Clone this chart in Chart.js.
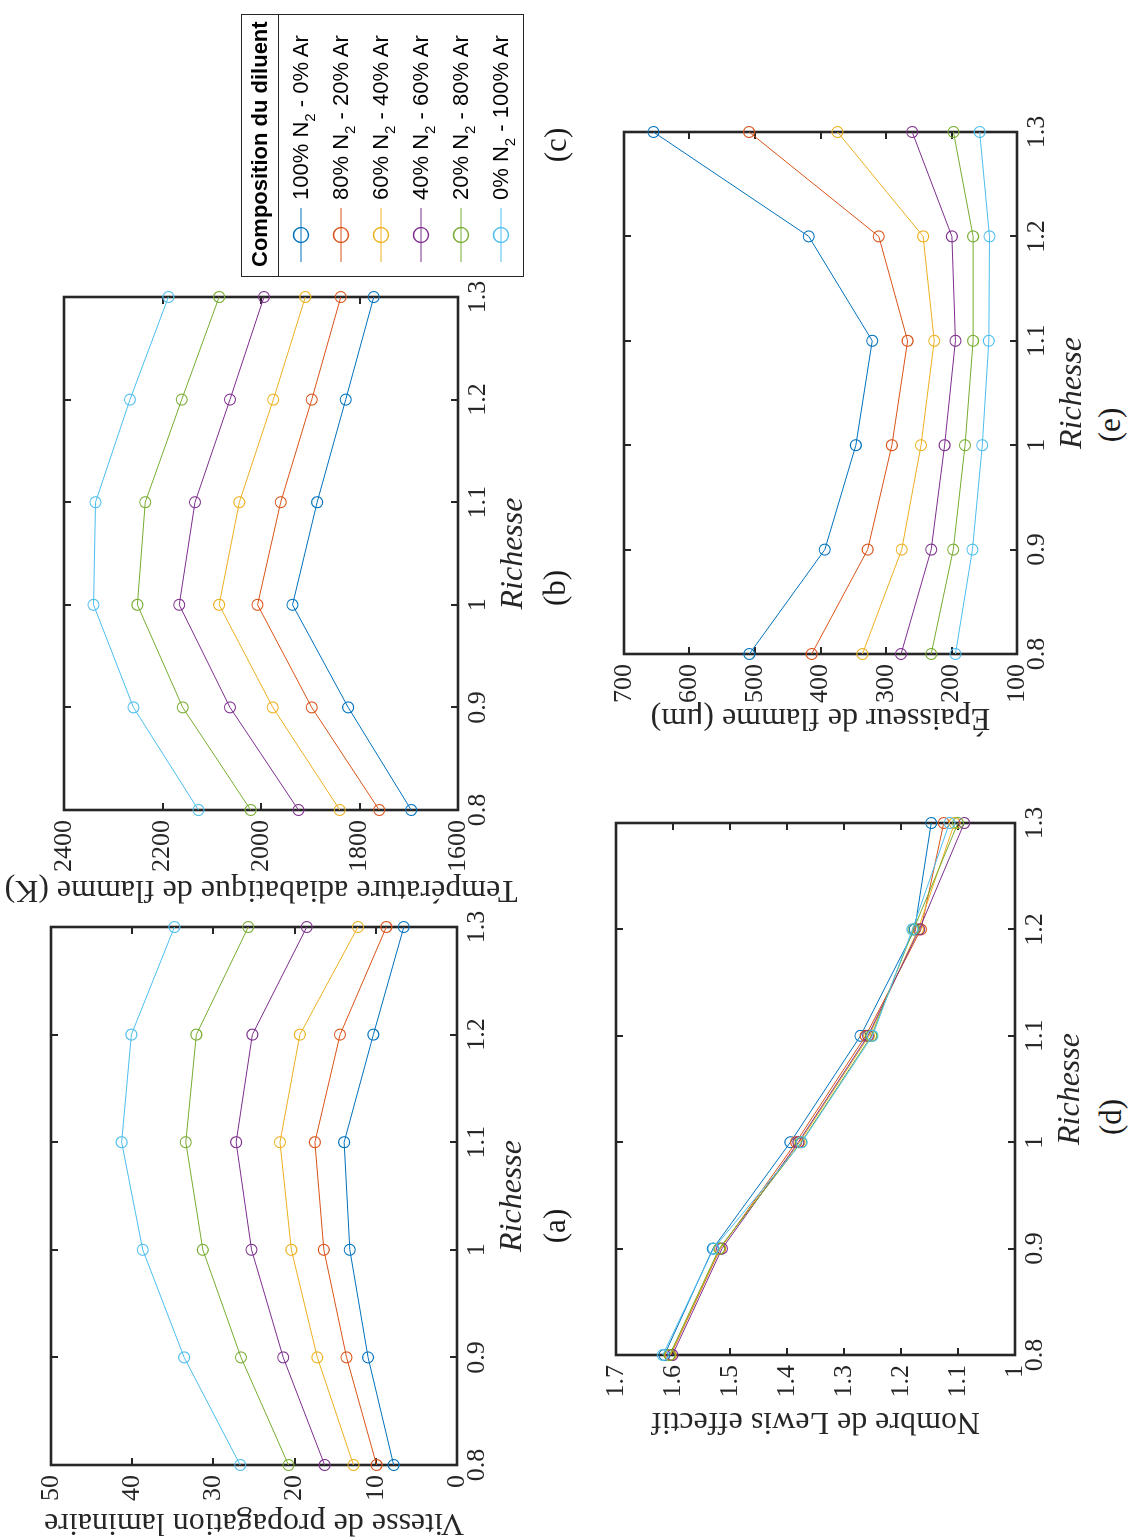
<!DOCTYPE html>
<html>
<head>
<meta charset="utf-8">
<script src="https://cdn.jsdelivr.net/npm/chart.js@4.4.1/dist/chart.umd.min.js"></script>
<style>
  html, body { margin: 0; padding: 0; background: #fff; overflow: hidden; width: 1133px; height: 1539px; }
  #page { position: absolute; left: 0; top: 0; width: 1539px; height: 1133px; background: #fff;
          transform-origin: 0 0; transform: translate(0, 1539px) rotate(-90deg); }
  .plabel { position: absolute; transform: translate(-50%, -50%); font-family: 'Liberation Serif', serif;
            font-size: 31px; color: #1a1a1a; white-space: nowrap; }
  #legend { position: absolute; left: 1262px; top: 241px; width: 263px; height: 283px;
            border: 1px solid #262626; background: #fff; font-family: 'Liberation Sans', Arial, sans-serif;
            font-size: 22px; color: #000; box-sizing: border-box; }
  #legend .ttl { position: absolute; left: 0; top: 0; width: 100%; height: 37px; border-bottom: 1px solid #262626;
                 box-sizing: border-box; font-weight: bold; line-height: 36px; padding-left: 9px; white-space: nowrap; }
  #legend sub { font-size: 15px; vertical-align: -7px; line-height: 0; }
</style>
</head>
<body>
<div id="page">
  <div id="legend"><div class="ttl">Composition du diluent</div></div>
</div>
<script>
// ---------------- DATA ----------------
const richesse = [0.8, 0.9, 1.0, 1.1, 1.2, 1.3];
const n2Percent = [100, 80, 60, 40, 20, 0];
const arPercent = [0, 20, 40, 60, 80, 100];

// (a) Vitesse de propagation laminaire
const vitesse100N2 = [7.8, 10.95, 13.2, 13.9, 10.3, 6.55];
const vitesse80N2  = [9.9, 13.6, 16.4, 17.5, 14.4, 8.7];
const vitesse60N2  = [12.75, 17.2, 20.4, 21.8, 19.35, 12.2];
const vitesse40N2  = [16.3, 21.4, 25.3, 27.2, 25.2, 18.5];
const vitesse20N2  = [20.75, 26.6, 31.3, 33.4, 32.1, 25.7];
const vitesse0N2   = [26.7, 33.6, 38.7, 41.3, 40.1, 34.8];

// (b) Température adiabatique de flamme (K)
const temp100N2 = [1695, 1823, 1936, 1886, 1828, 1771];
const temp80N2  = [1760, 1897, 2007, 1960, 1897, 1838];
const temp60N2  = [1840, 1976, 2085, 2044, 1975, 1910];
const temp40N2  = [1924, 2063, 2166, 2134, 2063, 1994];
const temp20N2  = [2021, 2159, 2251, 2235, 2161, 2085];
const temp0N2   = [2127, 2259, 2340, 2336, 2266, 2188];

// (d) Nombre de Lewis effectif
const lewis100N2 = [1.615, 1.530, 1.394, 1.271, 1.176, 1.147];
const lewis80N2  = [1.604, 1.517, 1.384, 1.262, 1.165, 1.125];
const lewis60N2  = [1.605, 1.518, 1.378, 1.256, 1.170, 1.106];
const lewis40N2  = [1.601, 1.514, 1.380, 1.258, 1.168, 1.089];
const lewis20N2  = [1.606, 1.519, 1.375, 1.252, 1.178, 1.100];
const lewis0N2   = [1.618, 1.529, 1.374, 1.250, 1.180, 1.115];

// (e) Épaisseur de flamme (µm)
const epais100N2 = [508.6, 393.4, 346, 321, 418, 655];
const epais80N2  = [413.5, 328, 291, 267, 311, 509];
const epais60N2  = [336, 276, 246.5, 226.4, 243.3, 374];
const epais40N2  = [277, 231, 210.5, 194, 199.4, 260];
const epais20N2  = [231, 197.3, 179.3, 167, 167, 197];
const epais0N2   = [194, 168, 153, 143, 142, 157];

// tick values and labels
const xTickVals = [0.8, 0.9, 1.0, 1.1, 1.2, 1.3];
const xTickLabels = ['0.8', '0.9', '1', '1.1', '1.2', '1.3'];
const vitesseTicks = [0, 10, 20, 30, 40, 50];
const vitesseTickLabels = ['0', '10', '20', '30', '40', '50'];
const tempTicks = [1600, 1800, 2000, 2200, 2400];
const tempTickLabels = ['1600', '1800', '2000', '2200', '2400'];
const lewisTicks = [1, 1.1, 1.2, 1.3, 1.4, 1.5, 1.6, 1.7];
const lewisTickLabels = ['1', '1.1', '1.2', '1.3', '1.4', '1.5', '1.6', '1.7'];
const epaisTicks = [100, 200, 300, 400, 500, 600, 700];
const epaisTickLabels = ['100', '200', '300', '400', '500', '600', '700'];

// ---------------- STYLE ----------------
const colors = ['#0072BD', '#D95319', '#EDB120', '#7E2F8E', '#77AC30', '#4DBEEE'];
const SERIF = "'Liberation Serif', 'Times New Roman', serif";
const INK = '#262626';
const page = document.getElementById('page');

const framePlugin = {
  id: 'matlabFrame',
  beforeDatasetsDraw(chart) {
    const {ctx, chartArea: a, scales: {x, y}} = chart;
    const L = 7;
    ctx.save();
    ctx.strokeStyle = INK;
    ctx.lineWidth = 2;
    ctx.beginPath();
    x.ticks.forEach(t => {
      const p = Math.round(x.getPixelForValue(t.value));
      ctx.moveTo(p, a.bottom); ctx.lineTo(p, a.bottom - L);
      ctx.moveTo(p, a.top); ctx.lineTo(p, a.top + L);
    });
    y.ticks.forEach(t => {
      const p = Math.round(y.getPixelForValue(t.value));
      ctx.moveTo(a.left, p); ctx.lineTo(a.left + L, p);
      ctx.moveTo(a.right, p); ctx.lineTo(a.right - L, p);
    });
    ctx.stroke();
    ctx.lineWidth = 2.6;
    ctx.strokeRect(a.left, a.top, a.right - a.left, a.bottom - a.top);
    ctx.restore();
  }
};

function panel(cfg) {
  const B = cfg.box, A = cfg.area;
  const w = B.R - B.L, h = B.B - B.T;
  const c = document.createElement('canvas');
  c.width = w; c.height = h;
  c.style.cssText = `position:absolute;left:${B.L}px;top:${B.T}px;width:${w}px;height:${h}px`;
  page.insertBefore(c, page.firstChild);
  const tickFont = {family: SERIF, size: 26, lineHeight: 1.2};
  new Chart(c, {
    type: 'line',
    data: {
      datasets: cfg.values.map((vals, i) => ({
        label: `${n2Percent[i]}% N2 - ${arPercent[i]}% Ar`,
        data: richesse.map((r, j) => ({x: r, y: vals[j]})),
        borderColor: colors[i],
        backgroundColor: 'rgba(0,0,0,0)',
        borderWidth: 1,
        pointRadius: 5.5,
        pointHoverRadius: 5.5,
        pointBorderWidth: 1.1,
        pointBorderColor: colors[i],
        pointBackgroundColor: 'rgba(0,0,0,0)',
        tension: 0,
        clip: false,
        order: -i
      }))
    },
    options: {
      responsive: false,
      animation: false,
      devicePixelRatio: 1,
      events: [],
      layout: {padding: {left: 0, top: A.top - B.T, right: B.R - A.right, bottom: 0}},
      plugins: {legend: {display: false}, tooltip: {enabled: false}},
      scales: {
        x: {
          type: 'linear', position: 'bottom', min: 0.8, max: 1.3,
          grid: {display: false, drawTicks: false}, border: {display: false},
          afterBuildTicks: s => { s.ticks = xTickVals.map(v => ({value: v})); },
          afterFit: s => { s.height = B.B - A.bottom; },
          ticks: {callback: (v, i) => xTickLabels[i], font: tickFont, color: INK, padding: 5,
                  maxRotation: 0, minRotation: 0, autoSkip: false},
          title: {display: true, text: 'Richesse', color: INK, padding: 0,
                  font: {family: SERIF, size: 32, style: 'italic', lineHeight: 1.2}}
        },
        y: {
          type: 'linear', position: 'left', min: cfg.yMin, max: cfg.yMax,
          grid: {display: false, drawTicks: false}, border: {display: false},
          afterBuildTicks: s => { s.ticks = cfg.yTicks.map(v => ({value: v})); },
          afterFit: s => { s.width = A.left - B.L; },
          ticks: {callback: (v, i) => cfg.yTickLabels[i], font: tickFont, color: INK, padding: 10, autoSkip: false},
          title: {display: true, text: cfg.yTitle, color: INK, padding: 0,
                  font: {family: SERIF, size: 32, lineHeight: 1.2}}
        }
      }
    },
    plugins: [framePlugin]
  });
}

// (a)
panel({
  box: {L: -3, T: 0, R: 650, B: 532},
  area: {left: 74, top: 51, right: 612, bottom: 457},
  values: [vitesse100N2, vitesse80N2, vitesse60N2, vitesse40N2, vitesse20N2, vitesse0N2],
  yMin: 0, yMax: 50, yTicks: vitesseTicks, yTickLabels: vitesseTickLabels,
  yTitle: 'Vitesse de propagation laminaire'
});
// (b)
panel({
  box: {L: 630, T: 0, R: 1272, B: 533},
  area: {left: 729, top: 64, right: 1242, bottom: 458},
  values: [temp100N2, temp80N2, temp60N2, temp40N2, temp20N2, temp0N2],
  yMin: 1600, yMax: 2400, yTicks: tempTicks, yTickLabels: tempTickLabels,
  yTitle: 'Température adiabatique de flamme (K)'
});
// (d)
panel({
  box: {L: 98, T: 560, R: 746, B: 1090},
  area: {left: 184, top: 616, right: 716, bottom: 1015},
  values: [lewis100N2, lewis80N2, lewis60N2, lewis40N2, lewis20N2, lewis0N2],
  yMin: 1, yMax: 1.7, yTicks: lewisTicks, yTickLabels: lewisTickLabels,
  yTitle: 'Nombre de Lewis effectif'
});
// (e)
panel({
  box: {L: 802, T: 570, R: 1437, B: 1092},
  area: {left: 885, top: 624, right: 1407, bottom: 1017},
  values: [epais100N2, epais80N2, epais60N2, epais40N2, epais20N2, epais0N2],
  yMin: 100, yMax: 700, yTicks: epaisTicks, yTickLabels: epaisTickLabels,
  yTitle: 'Épaisseur de flamme (μm)'
});

// panel letters
[['(a)', 313, 555], ['(b)', 951, 555], ['(c)', 1394, 556], ['(d)', 422, 1111], ['(e)', 1114, 1110]]
  .forEach(([t, x, y]) => {
    const d = document.createElement('div');
    d.className = 'plabel';
    d.style.left = x + 'px'; d.style.top = y + 'px';
    d.textContent = t;
    page.appendChild(d);
  });

// legend (c)
const legend = document.getElementById('legend');
n2Percent.forEach((n, i) => {
  const row = document.createElement('div');
  row.style.cssText = `position:absolute;left:0;top:${39 + 40 * i}px;height:40px;width:100%;`;
  row.innerHTML =
    `<svg width="72" height="40" style="position:absolute;left:0;top:0">` +
    `<line x1="14" y1="20" x2="68" y2="20" stroke="${colors[i]}" stroke-width="1"/>` +
    `<circle cx="41" cy="20" r="7.5" fill="none" stroke="${colors[i]}" stroke-width="1.3"/></svg>` +
    `<span style="position:absolute;left:76px;top:0;line-height:40px;white-space:nowrap">${n}% N<sub>2</sub> - ${arPercent[i]}% Ar</span>`;
  legend.appendChild(row);
});
</script>
</body>
</html>
